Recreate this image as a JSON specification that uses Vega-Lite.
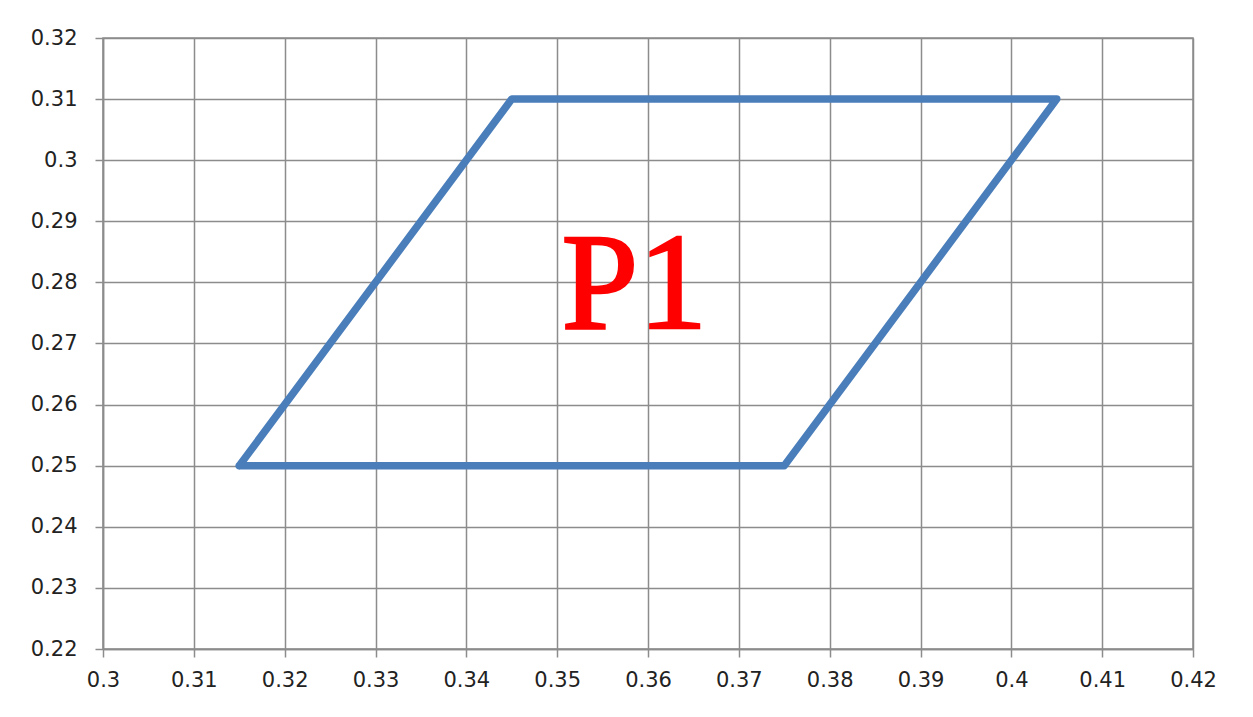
{
  "$schema": "https://vega.github.io/schema/vega-lite/v6.json",
  "width": 1090,
  "height": 611,
  "autosize": {"type": "none"},
  "padding": {"left": 103, "top": 38, "right": 60, "bottom": 68},
  "background": "white",
  "config": {
    "view": {"stroke": "#8c8c8c", "strokeWidth": 1.5},
    "axis": {
      "grid": true,
      "gridColor": "#8c8c8c",
      "gridWidth": 1.5,
      "gridOpacity": 1,
      "domainColor": "#8c8c8c",
      "domainWidth": 1.5,
      "tickColor": "#8c8c8c",
      "tickWidth": 1.5,
      "tickSize": 8,
      "labelFont": "DejaVu Sans",
      "labelFontSize": 21,
      "labelColor": "#222222",
      "title": null
    }
  },
  "datasets": {
    "shape": [
      {"order": 1, "x": 0.315, "y": 0.25},
      {"order": 2, "x": 0.345, "y": 0.31},
      {"order": 3, "x": 0.405, "y": 0.31},
      {"order": 4, "x": 0.375, "y": 0.25},
      {"order": 5, "x": 0.315, "y": 0.25}
    ],
    "label": [
      {"x": 0.3585, "y": 0.2725, "text": "P1"}
    ]
  },
  "layer": [
    {
      "data": {"name": "shape"},
      "mark": {"type": "line", "color": "#4a7ebb", "strokeWidth": 7.5, "strokeJoin": "round", "strokeCap": "round"},
      "encoding": {
        "x": {"field": "x", "type": "quantitative", "scale": {"domain": [0.3, 0.42], "nice": false, "zero": false},
              "axis": {"values": [0.3,0.31,0.32,0.33,0.34,0.35,0.36,0.37,0.38,0.39,0.4,0.41,0.42], "labelPadding": 12, "labelFlush": false, "labelExpr": "format(datum.value, '.2~f')"}},
        "y": {"field": "y", "type": "quantitative", "scale": {"domain": [0.22, 0.32], "nice": false, "zero": false},
              "axis": {"values": [0.22,0.23,0.24,0.25,0.26,0.27,0.28,0.29,0.3,0.31,0.32], "labelPadding": 18, "labelFlush": false, "labelExpr": "format(datum.value, '.2~f')"}},
        "order": {"field": "order", "type": "quantitative"}
      }
    },
    {
      "data": {"name": "label"},
      "mark": {"type": "text", "color": "#ff0000", "font": "Times New Roman, Liberation Serif, Tinos, serif", "fontSize": 138, "fontWeight": "normal", "align": "center", "baseline": "alphabetic", "stroke": "#ff0000", "strokeWidth": 2.5},
      "encoding": {
        "x": {"field": "x", "type": "quantitative"},
        "y": {"field": "y", "type": "quantitative"},
        "text": {"field": "text"}
      }
    }
  ]
}
